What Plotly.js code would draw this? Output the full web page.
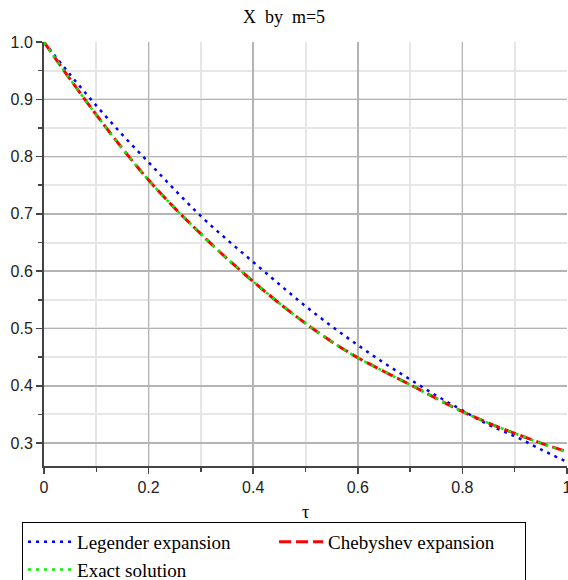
<!DOCTYPE html>
<html>
<head>
<meta charset="utf-8">
<script src="https://cdn.plot.ly/plotly-3.0.1.min.js"></script>
<style>html,body{margin:0;padding:0;background:#fff;}#chart{width:568px;height:580px;}</style>
</head>
<body>
<div id="chart"></div>
<script>
// tau values
const tau = [0, 0.05, 0.10, 0.15, 0.20, 0.25, 0.30, 0.35, 0.40, 0.45, 0.50, 0.55, 0.60, 0.65, 0.70, 0.75, 0.80, 0.85, 0.90, 0.95, 1.00];
// Legendre expansion
const legendre = [1.000, 0.943, 0.889, 0.838, 0.790, 0.742, 0.696, 0.655, 0.616, 0.577, 0.539, 0.504, 0.471, 0.440, 0.411, 0.383, 0.357, 0.332, 0.312, 0.289, 0.267];
// Chebyshev expansion
const chebyshev = [1.000, 0.935, 0.873, 0.814, 0.759, 0.710, 0.665, 0.622, 0.582, 0.544, 0.509, 0.477, 0.449, 0.425, 0.402, 0.378, 0.355, 0.335, 0.317, 0.300, 0.285];
// Exact solution
const exact = [1.000, 0.935, 0.873, 0.814, 0.759, 0.710, 0.665, 0.622, 0.582, 0.544, 0.509, 0.477, 0.449, 0.425, 0.402, 0.378, 0.355, 0.335, 0.317, 0.300, 0.284];

const seriesNames = ['Legender expansion', 'Chebyshev expansion', 'Exact solution'];
const xTicks = [0, 0.2, 0.4, 0.6, 0.8, 1];
const xTickText = ['0', '0.2', '0.4', '0.6', '0.8', '1'];
const yTicks = [0.3, 0.4, 0.5, 0.6, 0.7, 0.8, 0.9, 1.0];
const yTickText = ['0.3', '0.4', '0.5', '0.6', '0.7', '0.8', '0.9', '1.0'];

const traces = [
  {x: tau, y: legendre, name: seriesNames[0], mode: 'lines', line: {color: '#0000ff', width: 2.5, dash: '3px,5px', shape: 'spline'}},
  {x: tau, y: chebyshev, name: seriesNames[1], mode: 'lines', line: {color: '#ff0000', width: 3, dash: '12px,5px', shape: 'spline'}},
  {x: tau, y: exact, name: seriesNames[2], mode: 'lines', line: {color: '#00f000', width: 2.5, dash: '3px,5px', shape: 'spline'}}
];

const layout = {
  width: 568, height: 580,
  margin: {l: 44, r: 1, t: 42, b: 114, autoexpand: false},
  paper_bgcolor: '#ffffff', plot_bgcolor: '#ffffff',
  title: {text: 'X\u00a0\u00a0by\u00a0\u00a0m=5', x: 0.5, xref: 'container', y: 0.971, yref: 'container', yanchor: 'middle',
          font: {family: 'Liberation Serif, serif', size: 18, color: '#000'}},
  xaxis: {
    range: [0, 1], tickvals: xTicks, ticktext: xTickText, ticklabeloverflow: 'allow',
    showline: true, linecolor: '#444', linewidth: 2,
    ticks: 'outside', ticklen: 6, tickcolor: '#444', tickwidth: 1.5,
    showgrid: true, gridcolor: '#b4b4b4', gridwidth: 1.5, zeroline: false,
    minor: {dtick: 0.1, tick0: 0, showgrid: true, gridcolor: '#e6e6e6', gridwidth: 2, ticks: 'outside', ticklen: 4, tickcolor: '#444'},
    tickfont: {family: 'Liberation Sans, sans-serif', size: 16, color: '#222'},
    title: {text: 'τ', font: {family: 'Liberation Serif, serif', size: 18, color: '#000'}, standoff: 10}
  },
  yaxis: {
    range: [0.26, 1.0], tickvals: yTicks, ticktext: yTickText,
    showline: true, linecolor: '#444', linewidth: 2,
    ticks: 'outside', ticklen: 6, tickcolor: '#444', tickwidth: 1.5,
    showgrid: true, gridcolor: '#b4b4b4', gridwidth: 1.5, zeroline: false,
    minor: {dtick: 0.05, tick0: 0, showgrid: true, gridcolor: '#e6e6e6', gridwidth: 2, ticks: 'outside', ticklen: 4, tickcolor: '#444'},
    tickfont: {family: 'Liberation Sans, sans-serif', size: 16, color: '#222'}
  },
  showlegend: true,
  legend: {
    orientation: 'h', x: -0.042, xanchor: 'left', y: -0.132, yanchor: 'top',
    bordercolor: '#000', borderwidth: 1, bgcolor: '#fff',
    entrywidth: 192, entrywidthmode: 'pixels',
    font: {family: 'Liberation Serif, serif', size: 19, color: '#000'},
    itemwidth: 44, traceorder: 'normal', tracegroupgap: 0
  }
};

Plotly.newPlot('chart', traces, layout, {staticPlot: true, displayModeBar: false});
</script>
</body>
</html>
